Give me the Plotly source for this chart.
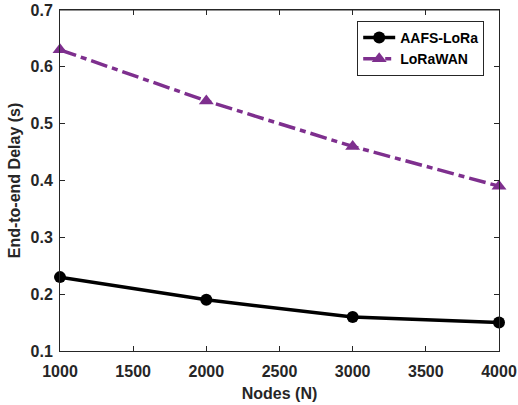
import plotly.graph_objects as go

nodes = [1000, 2000, 3000, 4000]
aafs_lora = [0.23, 0.19, 0.16, 0.15]
lorawan = [0.63, 0.54, 0.46, 0.39]
x_ticks = [1000, 1500, 2000, 2500, 3000, 3500, 4000]
y_ticks = [0.1, 0.2, 0.3, 0.4, 0.5, 0.6, 0.7]

purple = "#7E2F8E"
font_fam = "Arial, Liberation Sans"
fig = go.Figure()
fig.add_trace(go.Scatter(
    x=nodes, y=aafs_lora, name="<b>AAFS-LoRa</b>", mode="lines+markers",
    line=dict(color="black", width=3.5),
    marker=dict(symbol="circle", size=12, color="black"),
    cliponaxis=False))
fig.add_trace(go.Scatter(
    x=nodes, y=lorawan, name="<b>LoRaWAN</b>", mode="lines+markers",
    line=dict(color=purple, width=3.5, dash="17px,5px,6px,5px"),
    marker=dict(symbol="triangle-up", size=13, color=purple),
    cliponaxis=False))

axis_common = dict(
    showgrid=False, zeroline=False, showline=True, linecolor="#262626", linewidth=1,
    mirror="ticks", ticks="inside", ticklen=5, tickcolor="#262626", automargin=False,
    ticklabeloverflow="allow",
    tickfont=dict(family=font_fam, size=16, color="#262626"),
)
fig.update_xaxes(range=[1000, 4000], tickvals=x_ticks, ticktext=[f"<b>{v}</b>" for v in x_ticks],
                 ticklabelstandoff=6,
                 title=dict(text="<b>Nodes (N)</b>", font=dict(family=font_fam, size=16, color="#262626"), standoff=8),
                 **axis_common)
fig.update_yaxes(range=[0.1, 0.7], tickvals=y_ticks, ticktext=[f"<b>{v:.1f}</b>" for v in y_ticks],
                 ticklabelstandoff=3,
                 title=dict(text="<b>End-to-end Delay (s)</b>", font=dict(family=font_fam, size=16, color="#262626"), standoff=5),
                 **axis_common)

fig.add_shape(type="line", xref="paper", yref="paper", x0=0, x1=1, y0=1, y1=1,
              line=dict(color="#262626", width=1.2), layer="above")

fig.update_layout(
    width=518, height=405,
    margin=dict(l=60, r=19, t=10, b=54),
    plot_bgcolor="white", paper_bgcolor="white",
    legend=dict(x=0.677, y=0.968, xanchor="left", yanchor="top",
                bgcolor="white", bordercolor="#262626", borderwidth=1,
                font=dict(family=font_fam, size=14, color="black"),
                tracegroupgap=0, itemwidth=32),
    showlegend=True,
)

fig.write_html("out.html")
